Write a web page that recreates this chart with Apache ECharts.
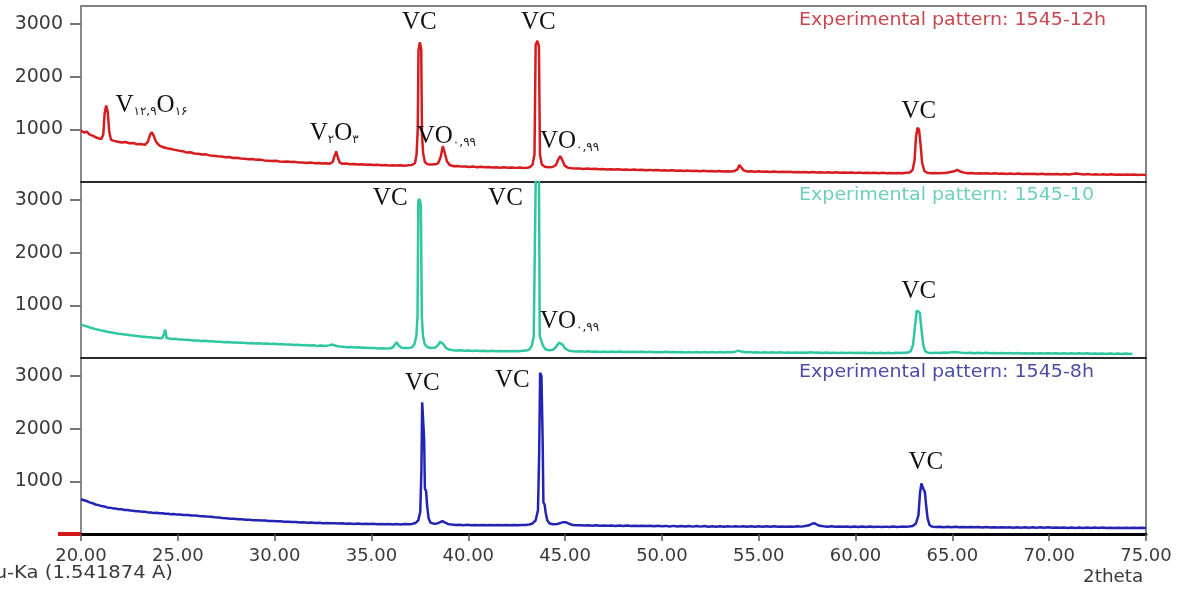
<!DOCTYPE html>
<html>
<head>
<meta charset="utf-8">
<script src="https://cdn.jsdelivr.net/npm/echarts@6/dist/echarts.min.js"></script>
<style>
  html, body { margin: 0; padding: 0; background: #fff; }
  #chart { width: 1178px; height: 591px; }
</style>
</head>
<body>
<div id="chart"></div>
<script>
// XRD patterns of samples 1545 after 12 h, 10 h and 8 h, intensity vs 2theta (Cu-Ka)
const panelNames = ['Experimental pattern: 1545-12h', 'Experimental pattern: 1545-10', 'Experimental pattern: 1545-8h'];
const yTickValues = [1000, 2000, 3000];
const xAxisName = '2theta';
const radiationNote = 'Cu-Ka (1.541874 A)';

// [2theta, counts]
const red12h = [
[20.0,975],[20.15,940],[20.3,955],[20.45,900],[20.6,880],[20.75,850],[20.9,830],[21.05,815],[21.15,900],[21.22,1300],[21.3,1450],[21.38,1330],[21.46,950],[21.55,800],[21.7,780],[21.9,765],[22.1,750],[22.3,760],[22.5,735],[22.7,740],[22.9,715],[23.1,720],[23.3,705],[23.45,760],[23.57,900],[23.66,945],[23.75,880],[23.88,760],[24.05,690],[24.25,660],[24.45,640],[24.65,625],[24.85,610],[25.05,595],[25.25,585],[25.45,560],[25.65,565],[25.85,540],[26.05,535],[26.25,520],[26.45,525],[26.65,505],[26.85,500],[27.05,490],[27.25,485],[27.45,470],[27.65,475],[27.85,455],[28.05,460],[28.25,445],[28.45,440],[28.65,430],[28.85,435],[29.05,420],[29.25,425],[29.45,410],[29.65,405],[29.85,400],[30.05,405],[30.25,390],[30.45,385],[30.65,390],[30.85,378],[31.05,382],[31.25,370],[31.45,372],[31.65,362],[31.85,368],[32.05,358],[32.25,362],[32.45,350],[32.65,355],[32.85,348],[33.0,380],[33.1,500],[33.18,580],[33.26,470],[33.36,370],[33.5,345],[33.7,350],[33.9,338],[34.1,342],[34.3,332],[34.5,336],[34.7,328],[34.9,332],[35.1,322],[35.3,328],[35.5,318],[35.7,322],[35.9,315],[36.1,320],[36.3,312],[36.5,318],[36.7,310],[36.9,316],[37.1,325],[37.25,360],[37.33,520],[37.39,1000],[37.43,2500],[37.5,2650],[37.57,2520],[37.61,900],[37.67,540],[37.76,380],[37.9,335],[38.1,330],[38.3,335],[38.45,360],[38.58,480],[38.68,680],[38.78,560],[38.9,390],[39.05,320],[39.25,300],[39.45,305],[39.65,292],[39.85,296],[40.05,285],[40.25,292],[40.45,282],[40.65,288],[40.85,278],[41.05,285],[41.25,275],[41.45,282],[41.65,272],[41.85,278],[42.05,270],[42.25,276],[42.45,268],[42.65,274],[42.85,266],[43.05,272],[43.2,285],[43.32,330],[43.42,520],[43.48,2600],[43.57,2680],[43.65,2580],[43.7,520],[43.8,330],[43.95,290],[44.15,280],[44.35,285],[44.52,320],[44.65,430],[44.75,490],[44.85,420],[44.98,310],[45.15,270],[45.35,262],[45.55,255],[45.75,258],[45.95,248],[46.15,254],[46.35,245],[46.55,250],[46.75,242],[46.95,248],[47.15,238],[47.35,244],[47.55,236],[47.75,242],[47.95,232],[48.15,238],[48.35,230],[48.55,236],[48.75,228],[48.95,232],[49.15,224],[49.35,230],[49.55,222],[49.75,228],[49.95,218],[50.15,224],[50.35,216],[50.55,222],[50.75,212],[50.95,220],[51.15,210],[51.35,216],[51.55,208],[51.75,214],[51.95,205],[52.15,212],[52.35,202],[52.55,210],[52.75,200],[52.95,208],[53.15,198],[53.35,205],[53.55,200],[53.75,210],[53.9,240],[54.0,320],[54.1,300],[54.22,220],[54.4,200],[54.6,204],[54.8,196],[55.0,202],[55.2,194],[55.4,200],[55.6,192],[55.8,198],[56.0,190],[56.2,196],[56.4,188],[56.6,194],[56.8,186],[57.0,192],[57.2,184],[57.4,190],[57.6,182],[57.8,188],[58.0,180],[58.2,186],[58.4,178],[58.6,185],[58.8,176],[59.0,183],[59.2,175],[59.4,182],[59.6,174],[59.8,180],[60.0,172],[60.2,178],[60.4,170],[60.6,176],[60.8,170],[61.0,175],[61.2,168],[61.4,174],[61.6,166],[61.8,172],[62.0,165],[62.2,172],[62.4,166],[62.6,174],[62.8,180],[62.95,230],[63.05,420],[63.12,850],[63.2,1030],[63.28,990],[63.36,700],[63.44,360],[63.55,210],[63.7,175],[63.9,168],[64.1,172],[64.3,166],[64.5,172],[64.7,175],[64.9,190],[65.1,205],[65.25,228],[65.4,200],[65.6,178],[65.8,166],[66.0,170],[66.2,162],[66.4,168],[66.6,160],[66.8,166],[67.0,158],[67.2,164],[67.4,156],[67.6,162],[67.8,154],[68.0,160],[68.2,152],[68.4,160],[68.6,150],[68.8,158],[69.0,150],[69.2,156],[69.4,148],[69.6,155],[69.8,146],[70.0,154],[70.2,146],[70.4,152],[70.6,144],[70.8,152],[71.0,144],[71.2,150],[71.4,160],[71.6,150],[71.8,142],[72.0,150],[72.2,140],[72.4,148],[72.6,140],[72.8,146],[73.0,138],[73.2,146],[73.4,138],[73.6,144],[73.8,136],[74.0,144],[74.2,136],[74.4,142],[74.6,134],[74.8,140],[75.0,134]
];

const teal10h = [
[20.0,640],[20.15,615],[20.3,600],[20.45,580],[20.6,565],[20.75,548],[20.9,535],[21.05,520],[21.2,512],[21.35,498],[21.5,490],[21.65,478],[21.8,470],[21.95,460],[22.1,455],[22.25,444],[22.4,440],[22.55,430],[22.7,426],[22.85,416],[23.0,414],[23.15,404],[23.3,402],[23.45,394],[23.6,392],[23.75,384],[23.9,386],[24.05,376],[24.2,380],[24.3,470],[24.35,540],[24.42,380],[24.55,368],[24.7,362],[24.85,364],[25.0,354],[25.2,352],[25.4,344],[25.6,342],[25.8,334],[26.0,332],[26.2,324],[26.4,326],[26.6,316],[26.8,318],[27.0,308],[27.2,310],[27.4,300],[27.6,302],[27.8,294],[28.0,296],[28.2,288],[28.4,290],[28.6,282],[28.8,286],[29.0,276],[29.2,280],[29.4,272],[29.6,275],[29.8,266],[30.0,270],[30.2,260],[30.4,264],[30.6,254],[30.8,258],[31.0,248],[31.2,252],[31.4,242],[31.6,246],[31.8,236],[32.0,240],[32.2,230],[32.4,236],[32.6,226],[32.8,240],[33.0,255],[33.15,232],[33.35,218],[33.55,214],[33.75,206],[33.95,208],[34.15,200],[34.35,202],[34.55,194],[34.75,196],[34.95,188],[35.15,190],[35.35,182],[35.55,184],[35.75,178],[35.95,186],[36.1,200],[36.22,260],[36.3,300],[36.4,240],[36.55,196],[36.75,188],[36.95,192],[37.1,205],[37.22,260],[37.32,420],[37.38,800],[37.42,2980],[37.48,3020],[37.55,2900],[37.6,800],[37.66,420],[37.75,260],[37.9,205],[38.1,190],[38.3,200],[38.45,250],[38.55,310],[38.63,320],[38.72,260],[38.85,190],[39.0,160],[39.2,148],[39.4,142],[39.6,146],[39.8,138],[40.0,142],[40.2,134],[40.4,140],[40.6,132],[40.8,138],[41.0,130],[41.2,136],[41.4,128],[41.6,134],[41.8,128],[42.0,134],[42.2,126],[42.4,132],[42.6,128],[42.8,136],[43.0,140],[43.15,160],[43.28,230],[43.38,410],[43.45,420],[43.49,3600],[43.57,3600],[43.65,3600],[43.69,420],[43.76,410],[43.86,230],[44.0,160],[44.2,145],[44.4,160],[44.55,220],[44.68,290],[44.78,300],[44.88,250],[45.0,180],[45.2,140],[45.4,128],[45.6,124],[45.8,130],[46.0,120],[46.2,126],[46.4,118],[46.6,124],[46.8,116],[47.0,122],[47.2,116],[47.4,124],[47.6,114],[47.8,122],[48.0,114],[48.2,120],[48.4,112],[48.6,120],[48.8,112],[49.0,118],[49.2,110],[49.4,118],[49.6,110],[49.8,116],[50.0,110],[50.2,118],[50.4,108],[50.6,116],[50.8,108],[51.0,114],[51.2,106],[51.4,114],[51.6,106],[51.8,112],[52.0,104],[52.2,112],[52.4,104],[52.6,112],[52.8,106],[53.0,112],[53.2,106],[53.4,112],[53.6,110],[53.8,120],[53.95,140],[54.1,122],[54.3,108],[54.5,112],[54.7,104],[54.9,110],[55.1,102],[55.3,110],[55.5,102],[55.7,108],[55.9,100],[56.1,108],[56.3,100],[56.5,106],[56.7,98],[56.9,106],[57.1,98],[57.3,104],[57.5,98],[57.7,108],[57.9,100],[58.1,104],[58.3,96],[58.5,104],[58.7,96],[58.9,102],[59.1,96],[59.3,102],[59.5,94],[59.7,102],[59.9,94],[60.1,100],[60.3,94],[60.5,100],[60.7,92],[60.9,100],[61.1,92],[61.3,98],[61.5,92],[61.7,98],[61.9,92],[62.1,98],[62.3,94],[62.5,100],[62.7,104],[62.85,130],[62.97,250],[63.07,600],[63.16,900],[63.24,920],[63.32,860],[63.4,560],[63.5,240],[63.6,130],[63.75,100],[63.95,96],[64.15,102],[64.35,96],[64.55,104],[64.75,98],[64.95,108],[65.15,116],[65.35,106],[65.55,98],[65.75,94],[65.95,100],[66.15,92],[66.35,98],[66.55,90],[66.75,98],[66.95,90],[67.15,96],[67.35,88],[67.55,96],[67.75,88],[67.95,94],[68.15,86],[68.35,94],[68.55,86],[68.75,92],[68.95,86],[69.15,92],[69.35,84],[69.55,92],[69.75,84],[69.95,90],[70.15,84],[70.35,90],[70.55,82],[70.75,90],[70.95,82],[71.15,88],[71.35,82],[71.55,88],[71.75,80],[71.95,88],[72.15,80],[72.35,86],[72.55,80],[72.75,86],[72.95,78],[73.15,86],[73.35,78],[73.55,84],[73.75,78],[73.95,84],[74.15,76],[74.3,82]
];

const blue8h = [
[20.0,660],[20.15,640],[20.3,625],[20.45,600],[20.6,585],[20.75,560],[20.9,548],[21.05,530],[21.2,522],[21.35,505],[21.5,500],[21.65,486],[21.8,482],[21.95,470],[22.1,468],[22.25,456],[22.4,454],[22.55,444],[22.7,442],[22.85,432],[23.0,432],[23.15,420],[23.3,422],[23.45,410],[23.6,410],[23.75,400],[23.9,402],[24.05,392],[24.2,394],[24.35,384],[24.5,386],[24.65,376],[24.8,378],[24.95,368],[25.1,370],[25.3,360],[25.5,362],[25.7,352],[25.9,350],[26.1,342],[26.3,338],[26.5,330],[26.7,326],[26.9,316],[27.1,314],[27.3,302],[27.5,300],[27.7,290],[27.9,290],[28.1,280],[28.3,280],[28.5,270],[28.7,270],[28.9,262],[29.1,262],[29.3,254],[29.5,254],[29.7,246],[29.9,248],[30.1,240],[30.3,240],[30.5,232],[30.7,234],[30.9,226],[31.1,228],[31.3,220],[31.5,222],[31.7,214],[31.9,218],[32.1,210],[32.3,214],[32.5,206],[32.7,210],[32.9,202],[33.1,206],[33.3,198],[33.5,204],[33.7,196],[33.9,200],[34.1,192],[34.3,198],[34.5,190],[34.7,196],[34.9,188],[35.1,194],[35.3,186],[35.5,192],[35.7,184],[35.9,190],[36.1,182],[36.3,188],[36.5,182],[36.7,188],[36.9,184],[37.1,192],[37.28,210],[37.42,260],[37.52,420],[37.58,1200],[37.62,2500],[37.68,2480],[37.72,1800],[37.76,860],[37.82,820],[37.88,520],[37.95,300],[38.05,215],[38.2,196],[38.4,200],[38.55,225],[38.66,245],[38.78,220],[38.95,190],[39.15,178],[39.35,172],[39.55,176],[39.75,168],[39.95,174],[40.15,166],[40.35,172],[40.55,166],[40.75,172],[40.95,164],[41.15,170],[41.35,164],[41.55,170],[41.75,164],[41.95,170],[42.15,164],[42.35,170],[42.55,166],[42.75,172],[42.95,170],[43.15,180],[43.32,200],[43.48,260],[43.6,450],[43.66,1500],[43.71,3060],[43.78,3000],[43.84,1800],[43.88,600],[43.94,560],[44.0,400],[44.08,260],[44.2,200],[44.4,185],[44.6,190],[44.78,212],[44.9,225],[45.05,222],[45.2,195],[45.4,172],[45.6,164],[45.8,168],[46.0,160],[46.2,166],[46.4,158],[46.6,164],[46.8,156],[47.0,162],[47.2,156],[47.4,162],[47.6,154],[47.8,160],[48.0,154],[48.2,160],[48.4,152],[48.6,158],[48.8,152],[49.0,158],[49.2,150],[49.4,156],[49.6,148],[49.8,158],[50.0,146],[50.2,154],[50.4,144],[50.6,154],[50.8,142],[51.0,152],[51.2,142],[51.4,150],[51.6,140],[51.8,150],[52.0,140],[52.2,150],[52.4,138],[52.6,148],[52.8,138],[53.0,148],[53.2,138],[53.4,148],[53.6,140],[53.8,148],[54.0,140],[54.2,148],[54.4,138],[54.6,148],[54.8,138],[55.0,146],[55.2,136],[55.4,146],[55.6,136],[55.8,146],[56.0,136],[56.2,144],[56.4,136],[56.6,144],[56.8,136],[57.0,146],[57.2,140],[57.4,150],[57.6,165],[57.75,195],[57.87,205],[58.0,180],[58.15,155],[58.35,146],[58.55,138],[58.75,146],[58.95,136],[59.15,144],[59.35,136],[59.55,144],[59.75,134],[59.95,142],[60.15,134],[60.35,142],[60.55,134],[60.75,142],[60.95,132],[61.15,140],[61.35,132],[61.55,140],[61.75,134],[61.95,142],[62.15,134],[62.35,140],[62.55,136],[62.75,142],[62.95,150],[63.12,200],[63.25,360],[63.33,780],[63.4,960],[63.46,990],[63.52,840],[63.58,800],[63.64,560],[63.72,300],[63.82,170],[63.95,140],[64.15,132],[64.35,138],[64.55,130],[64.75,136],[64.95,128],[65.15,136],[65.35,128],[65.55,134],[65.75,126],[65.95,134],[66.15,126],[66.35,132],[66.55,124],[66.75,132],[66.95,124],[67.15,130],[67.35,122],[67.55,130],[67.75,122],[67.95,128],[68.15,120],[68.35,128],[68.55,120],[68.75,128],[68.95,120],[69.15,126],[69.35,118],[69.55,126],[69.75,118],[69.95,126],[70.15,118],[70.35,124],[70.55,118],[70.75,124],[70.95,116],[71.15,124],[71.35,116],[71.55,124],[71.75,116],[71.95,122],[72.15,116],[72.35,122],[72.55,114],[72.75,122],[72.95,114],[73.15,120],[73.35,114],[73.55,120],[73.75,112],[73.95,120],[74.15,112],[74.35,118],[74.55,112],[74.75,118],[75.0,114]
];

// phase notes: [label, 2theta, counts] — label centre in data coordinates
const notes12h = [
  ['VC', 37.47, 3037], ['VC', 43.62, 3037],
  ['V۱۲,۹O۱۶', 23.64, 1461], ['V۲O۳', 33.08, 930],
  ['VO۰,۹۹', 38.87, 873], ['VO۰,۹۹', 45.23, 778],
  ['VC', 63.27, 1348]
];
const notes10h = [
  ['VC', 35.97, 3037], ['VC', 41.92, 3037],
  ['VO۰,۹۹', 45.23, 702], ['VC', 63.27, 1272]
];
const notes8h = [
  ['VC', 37.63, 2866], ['VC', 42.28, 2923], ['VC', 63.63, 1367]
];

const seriesData = [red12h, teal10h, blue8h];
const seriesNotes = [notes12h, notes10h, notes8h];
const lineColors = ['#d61c1f', '#2fc6a2', '#2424b4'];
const titleColors = ['#c9464f', '#6dd0b7', '#4c4ca6'];

const PANEL_TOP = [6, 182, 358];
const PANEL_H = 176;
const Y_MAX = 3340;
const AXIS_FONT = 'DejaVu Sans';

// turn Persian digit groups into subscripts
function richify(t) {
  return t.split(/([۰-۹,]+)/).filter(Boolean)
    .map(seg => /[۰-۹]/.test(seg) ? '{s|' + seg + '}' : '{n|' + seg + '}')
    .join('');
}

const grids = PANEL_TOP.map(top => ({
  left: 81, right: 32, top: top, height: PANEL_H,
  show: true, borderColor: '#5a5a5a', borderWidth: 1.5
}));

const xAxes = [0, 1, 2].map(i => ({
  type: 'value', gridIndex: i, min: 20, max: 75, interval: 5,
  axisLine: { show: true, onZero: false, lineStyle: { color: i === 2 ? '#000' : '#2a2a2a', width: i === 2 ? 3 : 2 } },
  axisTick: { show: i === 2, length: 7, lineStyle: { color: '#555', width: 1.5 } },
  axisLabel: {
    show: i === 2, margin: 13, color: '#3a3a3a', fontFamily: AXIS_FONT, fontSize: 18,
    formatter: v => v.toFixed(2)
  },
  splitLine: { show: false }
}));

const yAxes = [0, 1, 2].map(i => ({
  type: 'value', gridIndex: i, position: 'left', min: 0, max: Y_MAX, interval: 1000,
  axisLine: { show: true, onZero: false, lineStyle: { color: '#8a8a8a', width: 2 } },
  axisTick: { show: true, customValues: yTickValues, length: 11, lineStyle: { color: '#777', width: 2 } },
  axisLabel: {
    customValues: yTickValues, margin: 18, color: '#3a3a3a', fontFamily: AXIS_FONT, fontSize: 19,
    formatter: v => String(v)
  },
  splitLine: { show: false }
}));
// red origin marker on the lowest panel
yAxes.push({
  type: 'value', gridIndex: 2, position: 'left', offset: 0, min: 0, max: Y_MAX, interval: 1000,
  axisLine: { show: false, onZero: false },
  axisLabel: { show: false },
  axisTick: { show: true, customValues: [0], length: 23, lineStyle: { color: '#d21a1a', width: 4 } },
  splitLine: { show: false }
});

const series = seriesData.map((data, i) => ({
  type: 'line', xAxisIndex: i, yAxisIndex: i, data: data,
  showSymbol: false, clip: true, animation: false,
  lineStyle: { color: lineColors[i], width: 2.5 },
  markPoint: {
    symbol: 'circle', symbolSize: 1,
    itemStyle: { color: 'rgba(0,0,0,0)' },
    label: {
      show: true, position: 'inside',
      formatter: p => richify(p.name),
      rich: {
        n: { fontFamily: 'Liberation Serif', fontSize: 25, color: '#111', lineHeight: 26 },
        s: { fontFamily: 'DejaVu Sans', fontSize: 12, color: '#222', lineHeight: 12, verticalAlign: 'bottom' }
      }
    },
    data: seriesNotes[i].map(n => ({ name: n[0], coord: [n[1], n[2]] }))
  }
}));

const titleY = [12, 187, 364];
const graphics = panelNames.map((t, i) => ({
  type: 'text', x: 799, y: titleY[i], scaleX: 1.12,
  style: { text: t, fill: titleColors[i], font: '17px "' + AXIS_FONT + '"', verticalAlign: 'top' }
}));
graphics.push({
  type: 'text', x: 1083, y: 569, scaleX: 1.08,
  style: { text: xAxisName, fill: '#3a3a3a', font: '17px "' + AXIS_FONT + '"', verticalAlign: 'top' }
});
graphics.push({
  type: 'text', x: -19, y: 565, scaleX: 1.15,
  style: { text: radiationNote, fill: '#3a3a3a', font: '17px "' + AXIS_FONT + '"', verticalAlign: 'top' }
});

const chart = echarts.init(document.getElementById('chart'), null, { renderer: 'canvas' });
chart.setOption({
  animation: false,
  backgroundColor: '#ffffff',
  grid: grids,
  xAxis: xAxes,
  yAxis: yAxes,
  series: series,
  graphic: graphics
});
</script>
</body>
</html>
